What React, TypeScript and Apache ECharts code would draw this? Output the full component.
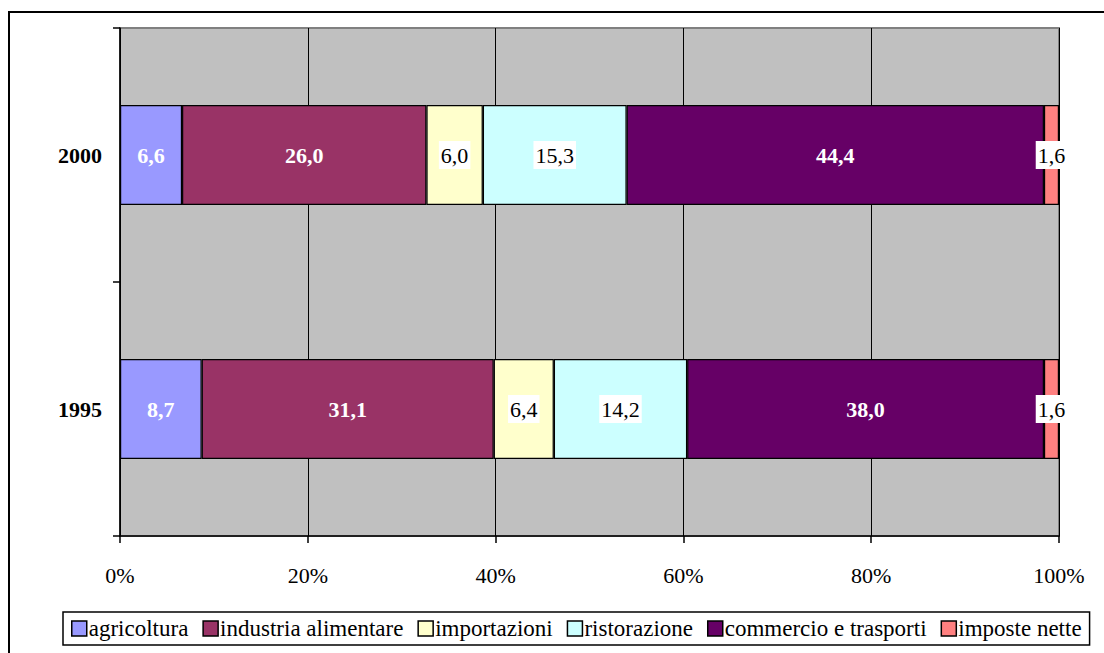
import React, { useEffect, useRef } from "react";
import * as echarts from "echarts";

const categories = ["1995", "2000"];
const seriesNames = [
  "agricoltura",
  "industria alimentare",
  "importazioni",
  "ristorazione",
  "commercio e trasporti",
  "imposte nette",
];
const agricoltura = [8.7, 6.6];
const industria = [31.1, 26.0];
const importazioni = [6.4, 6.0];
const ristorazione = [14.2, 15.3];
const commercio = [38.0, 44.4];
const imposte = [1.6, 1.6];
const xTicks = [0, 20, 40, 60, 80, 100];

const colors = ["#9999FF", "#993366", "#FFFFCC", "#CCFFFF", "#660066", "#FF8080"];
const whiteBold = [true, true, false, false, true, false];
const FONT = "Liberation Serif";
const FS = 22;

export default function App() {
  const ref = useRef<HTMLDivElement>(null);
  useEffect(() => {
    if (!ref.current) return;
    const chart = echarts.init(ref.current, null, { renderer: "svg" });
    const raw = [agricoltura, industria, importazioni, ristorazione, commercio, imposte];
    const totals = categories.map((_, i) => raw.reduce((s, arr) => s + arr[i], 0));
    const series = raw.map((arr, k) => ({
      name: seriesNames[k],
      type: "bar",
      stack: "total",
      barWidth: 100,
      data: arr.map((v, i) => (v / totals[i]) * 100),
      itemStyle: { color: colors[k], borderColor: "#000", borderWidth: 1.2 },
      label: {
        show: true,
        position: "inside",
        fontFamily: FONT,
        fontSize: FS,
        color: whiteBold[k] ? "#fff" : "#000",
        fontWeight: whiteBold[k] ? "bold" : "normal",
        backgroundColor: whiteBold[k] ? "transparent" : "#fff",
        padding: whiteBold[k] ? 0 : [4, 2, 2, 2],
        formatter: (p: any) => arr[p.dataIndex].toFixed(1).replace(".", ","),
      },
    }));
    chart.setOption({
      animation: false,
      backgroundColor: "#fff",
      textStyle: { fontFamily: FONT },
      graphic: [
        {
          type: "rect",
          shape: { x: 9, y: 12, width: 1110, height: 660 },
          style: { fill: "none", stroke: "#000", lineWidth: 2 },
          silent: true,
          z: 100,
        },
      ],
      grid: {
        left: 120,
        right: 45,
        top: 28,
        bottom: 117,
        show: true,
        backgroundColor: "#C0C0C0",
        borderColor: "#808080",
        borderWidth: 2,
      },
      legend: {
        data: seriesNames,
        left: 63,
        top: 612,
        orient: "horizontal",
        icon: "rect",
        itemWidth: 15,
        itemHeight: 15,
        itemGap: 14,
        padding: [5, 8, 5, 8],
        borderColor: "#000",
        borderWidth: 1.5,
        itemStyle: { borderColor: "#000", borderWidth: 1.5 },
        textStyle: { fontFamily: FONT, fontSize: 23, color: "#000", padding: [0, 0, 0, -3] },
      },
      xAxis: {
        type: "value",
        min: 0,
        max: 100,
        interval: 20,
        axisLine: { show: true, lineStyle: { color: "#000", width: 1.5 } },
        axisTick: { show: true, length: 7, lineStyle: { color: "#000", width: 1.5 } },
        splitLine: { show: true, lineStyle: { color: "#000", width: 1 } },
        axisLabel: {
          formatter: (v: number) => (xTicks.includes(v) ? v + "%" : ""),
          fontFamily: FONT,
          fontSize: FS,
          color: "#000",
          margin: 28,
        },
      },
      yAxis: {
        type: "category",
        data: categories,
        axisLine: { show: true, lineStyle: { color: "#000", width: 1.5 } },
        axisTick: { show: true, length: 7, alignWithLabel: false, lineStyle: { color: "#000", width: 1.5 } },
        axisLabel: {
          fontFamily: FONT,
          fontSize: FS,
          fontWeight: "bold",
          color: "#000",
          margin: 18,
        },
      },
      series,
    });
    return () => chart.dispose();
  }, []);
  return (
    <div
      ref={ref}
      style={{ position: "fixed", left: 0, top: 0, width: 1104, height: 653 }}
    />
  );
}
